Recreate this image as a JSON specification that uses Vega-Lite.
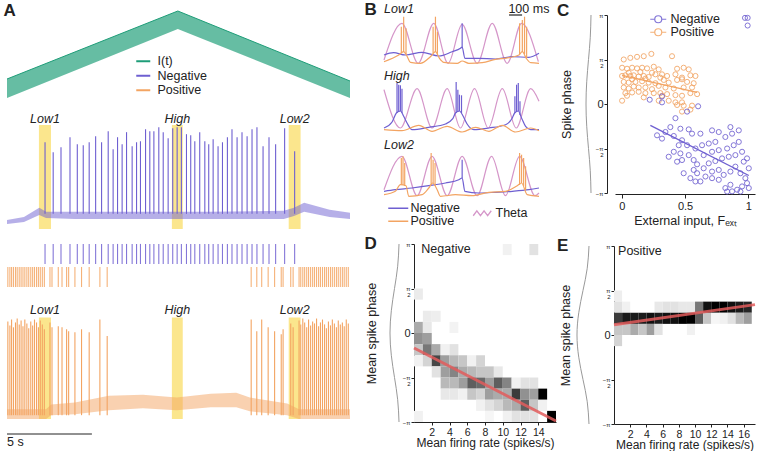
{
"$schema":"https://vega.github.io/schema/vega-lite/v6.json",
"padding":{"left":3,"top":0,"right":3,"bottom":0},
"config":{"font":"Liberation Sans","view":{"stroke":null},
 "axis":{"domainColor":"#222","tickColor":"#222","labelColor":"#222","titleColor":"#222","titleFontWeight":"normal","grid":false,"labelFont":"Liberation Sans","titleFont":"Liberation Sans"},
 "legend":{"labelFont":"Liberation Sans","labelColor":"#222"},
 "text":{"color":"#222","font":"Liberation Sans"}},
"datasets":{
 "drive":[{"t":0,"lo":3,"hi":22,"s":"I(t)"},{"t":10.06,"lo":72,"hi":90,"s":"I(t)"},{"t":20.2,"lo":3,"hi":20,"s":"I(t)"}],
 "negband":[{"t":0,"lo":-76,"hi":-72},{"t":1,"lo":-74,"hi":-69},{"t":1.9,"lo":-67,"hi":-60},{"t":2.3,"lo":-70,"hi":-64},{"t":4,"lo":-71,"hi":-64},{"t":8,"lo":-71,"hi":-64},{"t":12,"lo":-71,"hi":-64},{"t":16.3,"lo":-71,"hi":-63},{"t":16.9,"lo":-68,"hi":-60},{"t":17.5,"lo":-64,"hi":-55},{"t":19,"lo":-69,"hi":-62},{"t":20.2,"lo":-71,"hi":-65}],
 "negspk":[{"t":2.24,"peak":5},{"t":2.72,"peak":-5},{"t":3.18,"peak":0},{"t":3.71,"peak":10},{"t":4.14,"peak":3},{"t":4.49,"peak":2},{"t":4.84,"peak":5},{"t":5.22,"peak":11},{"t":5.57,"peak":5},{"t":5.96,"peak":16},{"t":6.25,"peak":-2},{"t":6.51,"peak":10},{"t":6.78,"peak":3},{"t":7.04,"peak":15},{"t":7.37,"peak":1},{"t":7.63,"peak":5},{"t":7.86,"peak":6},{"t":8.16,"peak":18},{"t":8.41,"peak":16},{"t":8.65,"peak":16},{"t":8.94,"peak":20},{"t":9.2,"peak":15},{"t":9.49,"peak":9},{"t":9.76,"peak":19},{"t":10.02,"peak":20},{"t":10.27,"peak":20},{"t":10.57,"peak":13},{"t":10.82,"peak":12},{"t":11.06,"peak":6},{"t":11.35,"peak":15},{"t":11.65,"peak":6},{"t":11.88,"peak":3},{"t":12.14,"peak":8},{"t":12.43,"peak":1},{"t":12.69,"peak":5},{"t":12.98,"peak":10},{"t":13.25,"peak":18},{"t":13.55,"peak":10},{"t":13.84,"peak":15},{"t":14.14,"peak":11},{"t":14.43,"peak":18},{"t":14.72,"peak":20},{"t":15.08,"peak":1},{"t":15.43,"peak":10},{"t":15.82,"peak":3},{"t":16.35,"peak":19},{"t":16.94,"peak":-4}],
 "posband":[{"t":0,"lo":-72,"hi":-62},{"t":2.3,"lo":-72,"hi":-62},{"t":2.6,"lo":-68,"hi":-57},{"t":4,"lo":-67,"hi":-55},{"t":6,"lo":-63,"hi":-48},{"t":8,"lo":-61,"hi":-47},{"t":10,"lo":-63,"hi":-50},{"t":12,"lo":-60,"hi":-46},{"t":13.5,"lo":-60,"hi":-45},{"t":14.3,"lo":-64,"hi":-50},{"t":16.5,"lo":-68,"hi":-56},{"t":17.2,"lo":-72,"hi":-62},{"t":20.2,"lo":-72,"hi":-62}],
 "posspk":[{"t":0.05,"peak":28},{"t":0.17,"peak":24},{"t":0.27,"peak":30},{"t":0.38,"peak":22},{"t":0.5,"peak":27},{"t":0.6,"peak":31},{"t":0.72,"peak":25},{"t":0.83,"peak":29},{"t":0.94,"peak":23},{"t":1.05,"peak":30},{"t":1.17,"peak":26},{"t":1.28,"peak":21},{"t":1.4,"peak":28},{"t":1.51,"peak":24},{"t":1.62,"peak":30},{"t":1.74,"peak":27},{"t":1.85,"peak":22},{"t":1.96,"peak":29},{"t":2.08,"peak":25},{"t":2.2,"peak":20},
  {"t":2.53,"peak":27},{"t":2.65,"peak":22},{"t":3.02,"peak":23},{"t":3.24,"peak":22},{"t":3.51,"peak":20},{"t":3.63,"peak":18},{"t":4.0,"peak":17},{"t":4.39,"peak":20},{"t":4.84,"peak":17},{"t":5.47,"peak":30},{"t":5.9,"peak":13},
  {"t":14.38,"peak":30},{"t":14.71,"peak":18},{"t":15.0,"peak":30},{"t":15.38,"peak":22},{"t":15.76,"peak":18},{"t":16.15,"peak":15},{"t":16.26,"peak":20},{"t":16.71,"peak":26},{"t":16.85,"peak":22},
  {"t":17.2,"peak":29},{"t":17.3,"peak":25},{"t":17.42,"peak":31},{"t":17.53,"peak":27},{"t":17.65,"peak":22},{"t":17.76,"peak":30},{"t":17.88,"peak":24},{"t":18.0,"peak":28},{"t":18.11,"peak":26},{"t":18.23,"peak":31},{"t":18.35,"peak":23},{"t":18.46,"peak":27},{"t":18.58,"peak":30},{"t":18.7,"peak":25},{"t":18.81,"peak":21},{"t":18.93,"peak":28},{"t":19.05,"peak":24},{"t":19.16,"peak":30},{"t":19.28,"peak":26},{"t":19.4,"peak":22},{"t":19.51,"peak":29},{"t":19.63,"peak":25},{"t":19.75,"peak":27},{"t":19.86,"peak":23},{"t":19.98,"peak":30},{"t":20.1,"peak":26}],
 "hl":[{"name":"Low1","t0":1.88,"t1":2.59,"tc":2.24},{"name":"High","t0":9.71,"t1":10.35,"tc":10.03},{"name":"Low2","t0":16.59,"t1":17.29,"tc":16.94}],
 "btheta":[
  {"row":"Low1","t":0,"v":5},{"row":"Low1","t":0.138,"v":41.7},{"row":"Low1","t":0.262,"v":1.7},{"row":"Low1","t":0.382,"v":41.7},{"row":"Low1","t":0.492,"v":1.7},{"row":"Low1","t":0.6,"v":40.7},{"row":"Low1","t":0.715,"v":1.7},{"row":"Low1","t":0.831,"v":41.7},{"row":"Low1","t":0.946,"v":1.7},{"row":"Low1","t":1.056,"v":41.7},{"row":"Low1","t":1.185,"v":3.3},
  {"row":"High","t":0,"v":43.3},{"row":"High","t":0.126,"v":5},{"row":"High","t":0.254,"v":44.3},{"row":"High","t":0.369,"v":5},{"row":"High","t":0.485,"v":44.3},{"row":"High","t":0.587,"v":5},{"row":"High","t":0.695,"v":44.3},{"row":"High","t":0.8,"v":5},{"row":"High","t":0.908,"v":44.3},{"row":"High","t":1.015,"v":5},{"row":"High","t":1.126,"v":44.3},{"row":"High","t":1.19,"v":31.7},
  {"row":"Low2","t":0,"v":8.3},{"row":"Low2","t":0.138,"v":41.7},{"row":"Low2","t":0.254,"v":2.3},{"row":"Low2","t":0.369,"v":41.7},{"row":"Low2","t":0.485,"v":2.3},{"row":"Low2","t":0.6,"v":41.7},{"row":"Low2","t":0.715,"v":2.3},{"row":"Low2","t":0.826,"v":41.7},{"row":"Low2","t":0.933,"v":2.3},{"row":"Low2","t":1.041,"v":41.7},{"row":"Low2","t":1.159,"v":2.3},{"row":"Low2","t":1.19,"v":5}],
 "bline":[
  {"row":"Low1","pop":"Negative","t":0,"v":10},{"row":"Low1","pop":"Negative","t":0.074,"v":12.3},{"row":"Low1","pop":"Negative","t":0.164,"v":10},{"row":"Low1","pop":"Negative","t":0.292,"v":12.7},{"row":"Low1","pop":"Negative","t":0.421,"v":9},{"row":"Low1","pop":"Negative","t":0.523,"v":13.3},{"row":"Low1","pop":"Negative","t":0.587,"v":16.7},{"row":"Low1","pop":"Negative","t":0.6,"v":18},{"row":"Low1","pop":"Negative","t":0.621,"v":6.7},{"row":"Low1","pop":"Negative","t":0.728,"v":6.7},{"row":"Low1","pop":"Negative","t":0.856,"v":6},{"row":"Low1","pop":"Negative","t":0.985,"v":8.3},{"row":"Low1","pop":"Negative","t":1.113,"v":7.7},{"row":"Low1","pop":"Negative","t":1.19,"v":11.7},
  {"row":"Low1","pop":"Positive","t":0,"v":3.3},{"row":"Low1","pop":"Positive","t":0.113,"v":10},{"row":"Low1","pop":"Positive","t":0.151,"v":13.3},{"row":"Low1","pop":"Positive","t":0.172,"v":10},{"row":"Low1","pop":"Positive","t":0.203,"v":2.7},{"row":"Low1","pop":"Positive","t":0.279,"v":1.7},{"row":"Low1","pop":"Positive","t":0.356,"v":8.3},{"row":"Low1","pop":"Positive","t":0.395,"v":13.3},{"row":"Low1","pop":"Positive","t":0.426,"v":6.7},{"row":"Low1","pop":"Positive","t":0.459,"v":2.7},{"row":"Low1","pop":"Positive","t":0.562,"v":1.7},{"row":"Low1","pop":"Positive","t":0.6,"v":4},{"row":"Low1","pop":"Positive","t":0.651,"v":1.7},{"row":"Low1","pop":"Positive","t":0.754,"v":2.3},{"row":"Low1","pop":"Positive","t":0.856,"v":5.7},{"row":"Low1","pop":"Positive","t":0.959,"v":7.3},{"row":"Low1","pop":"Positive","t":1.036,"v":10},{"row":"Low1","pop":"Positive","t":1.062,"v":13.3},{"row":"Low1","pop":"Positive","t":1.092,"v":6.7},{"row":"Low1","pop":"Positive","t":1.126,"v":2.3},{"row":"Low1","pop":"Positive","t":1.19,"v":1.7},
  {"row":"High","pop":"Negative","t":0,"v":5},{"row":"High","pop":"Negative","t":0.062,"v":11},{"row":"High","pop":"Negative","t":0.095,"v":20},{"row":"High","pop":"Negative","t":0.126,"v":22},{"row":"High","pop":"Negative","t":0.151,"v":16.7},{"row":"High","pop":"Negative","t":0.177,"v":10},{"row":"High","pop":"Negative","t":0.215,"v":3.3},{"row":"High","pop":"Negative","t":0.344,"v":5.7},{"row":"High","pop":"Negative","t":0.472,"v":9},{"row":"High","pop":"Negative","t":0.528,"v":14.3},{"row":"High","pop":"Negative","t":0.549,"v":20},{"row":"High","pop":"Negative","t":0.579,"v":22},{"row":"High","pop":"Negative","t":0.608,"v":16.7},{"row":"High","pop":"Negative","t":0.638,"v":9},{"row":"High","pop":"Negative","t":0.69,"v":3.3},{"row":"High","pop":"Negative","t":0.805,"v":5},{"row":"High","pop":"Negative","t":0.933,"v":8.3},{"row":"High","pop":"Negative","t":0.985,"v":15},{"row":"High","pop":"Negative","t":1.003,"v":20},{"row":"High","pop":"Negative","t":1.031,"v":22},{"row":"High","pop":"Negative","t":1.056,"v":15},{"row":"High","pop":"Negative","t":1.087,"v":6.7},{"row":"High","pop":"Negative","t":1.126,"v":3.3},{"row":"High","pop":"Negative","t":1.19,"v":3.3},
  {"row":"High","pop":"Positive","t":0,"v":3.3},{"row":"High","pop":"Positive","t":0.138,"v":2.3},{"row":"High","pop":"Positive","t":0.267,"v":7.7},{"row":"High","pop":"Positive","t":0.369,"v":1.7},{"row":"High","pop":"Positive","t":0.485,"v":6.7},{"row":"High","pop":"Positive","t":0.6,"v":1},{"row":"High","pop":"Positive","t":0.703,"v":5.7},{"row":"High","pop":"Positive","t":0.805,"v":1.7},{"row":"High","pop":"Positive","t":0.908,"v":7.7},{"row":"High","pop":"Positive","t":1.01,"v":1},{"row":"High","pop":"Positive","t":1.126,"v":5},{"row":"High","pop":"Positive","t":1.19,"v":2.3},
  {"row":"Low2","pop":"Negative","t":0,"v":6.7},{"row":"Low2","pop":"Negative","t":0.087,"v":8.3},{"row":"Low2","pop":"Negative","t":0.215,"v":10},{"row":"Low2","pop":"Negative","t":0.344,"v":12.3},{"row":"Low2","pop":"Negative","t":0.472,"v":15},{"row":"Low2","pop":"Negative","t":0.574,"v":18.3},{"row":"Low2","pop":"Negative","t":0.6,"v":20},{"row":"Low2","pop":"Negative","t":0.621,"v":6.7},{"row":"Low2","pop":"Negative","t":0.728,"v":5},{"row":"Low2","pop":"Negative","t":0.856,"v":5.7},{"row":"Low2","pop":"Negative","t":0.985,"v":6.7},{"row":"Low2","pop":"Negative","t":1.113,"v":8.3},{"row":"Low2","pop":"Negative","t":1.19,"v":10},
  {"row":"Low2","pop":"Positive","t":0,"v":3.3},{"row":"Low2","pop":"Positive","t":0.087,"v":6.7},{"row":"Low2","pop":"Positive","t":0.126,"v":13.3},{"row":"Low2","pop":"Positive","t":0.169,"v":12.3},{"row":"Low2","pop":"Positive","t":0.19,"v":1.7},{"row":"Low2","pop":"Positive","t":0.292,"v":3.3},{"row":"Low2","pop":"Positive","t":0.344,"v":10},{"row":"Low2","pop":"Positive","t":0.374,"v":15},{"row":"Low2","pop":"Positive","t":0.408,"v":8.3},{"row":"Low2","pop":"Positive","t":0.433,"v":1.7},{"row":"Low2","pop":"Positive","t":0.549,"v":3.3},{"row":"Low2","pop":"Positive","t":0.677,"v":2.3},{"row":"Low2","pop":"Positive","t":0.805,"v":5.7},{"row":"Low2","pop":"Positive","t":0.933,"v":6.7},{"row":"Low2","pop":"Positive","t":1.023,"v":12.3},{"row":"Low2","pop":"Positive","t":1.056,"v":15},{"row":"Low2","pop":"Positive","t":1.1,"v":3.3},{"row":"Low2","pop":"Positive","t":1.19,"v":1.7}],
 "bspk":[
  {"row":"Low1","pop":"Negative","t":0.6,"b":17,"p":41.7},
  {"row":"Low1","pop":"Positive","t":0.133,"b":12,"p":38.3},{"row":"Low1","pop":"Positive","t":0.151,"b":13,"p":48.3},{"row":"Low1","pop":"Positive","t":0.169,"b":11,"p":36.7},{"row":"Low1","pop":"Positive","t":0.377,"b":12,"p":38.3},{"row":"Low1","pop":"Positive","t":0.395,"b":13,"p":48.3},{"row":"Low1","pop":"Positive","t":0.41,"b":10,"p":33.3},{"row":"Low1","pop":"Positive","t":1.041,"b":11,"p":41.7},{"row":"Low1","pop":"Positive","t":1.062,"b":13,"p":45},{"row":"Low1","pop":"Positive","t":1.079,"b":11,"p":48.3},{"row":"Low1","pop":"Positive","t":1.095,"b":7,"p":38.3},
  {"row":"High","pop":"Negative","t":0.1,"b":20,"p":50},{"row":"High","pop":"Negative","t":0.113,"b":21,"p":48.3},{"row":"High","pop":"Negative","t":0.126,"b":22,"p":47.7},{"row":"High","pop":"Negative","t":0.138,"b":20,"p":44.3},{"row":"High","pop":"Negative","t":0.554,"b":20,"p":51},{"row":"High","pop":"Negative","t":0.567,"b":21,"p":43.3},{"row":"High","pop":"Negative","t":0.579,"b":22,"p":38.3},{"row":"High","pop":"Negative","t":0.595,"b":20,"p":37.7},{"row":"High","pop":"Negative","t":1.005,"b":20,"p":36.7},{"row":"High","pop":"Negative","t":1.018,"b":21,"p":48.3},{"row":"High","pop":"Negative","t":1.031,"b":22,"p":50},{"row":"High","pop":"Negative","t":1.044,"b":18,"p":31.7},
  {"row":"Low2","pop":"Negative","t":0.6,"b":20,"p":38.3},
  {"row":"Low2","pop":"Positive","t":0.133,"b":13,"p":40},{"row":"Low2","pop":"Positive","t":0.146,"b":13,"p":41.7},{"row":"Low2","pop":"Positive","t":0.159,"b":12,"p":35},{"row":"Low2","pop":"Positive","t":0.362,"b":13,"p":45},{"row":"Low2","pop":"Positive","t":0.377,"b":15,"p":38.3},{"row":"Low2","pop":"Positive","t":0.392,"b":12,"p":35},{"row":"Low2","pop":"Positive","t":1.041,"b":13,"p":45},{"row":"Low2","pop":"Positive","t":1.056,"b":15,"p":43.3},{"row":"Low2","pop":"Positive","t":1.072,"b":12,"p":40},{"row":"Low2","pop":"Positive","t":1.087,"b":8,"p":31.7}],
 "wave":[{"ph":-3.1416,"w":1},{"ph":-2.3562,"w":0.707},{"ph":-1.5708,"w":0},{"ph":-0.7854,"w":-0.707},{"ph":0,"w":-1},{"ph":0.7854,"w":-0.707},{"ph":1.5708,"w":0},{"ph":2.3562,"w":0.707},{"ph":3.1416,"w":1}],
 "cpts":[
  {"pop":"Positive","F":0.016,"ph":1.571},{"pop":"Positive","F":0.068,"ph":1.629},{"pop":"Positive","F":0.121,"ph":1.664},{"pop":"Positive","F":0.174,"ph":1.687},{"pop":"Positive","F":0.234,"ph":1.769},{"pop":"Positive","F":0.397,"ph":1.687},
  {"pop":"Positive","F":0.003,"ph":1.28},{"pop":"Positive","F":0.042,"ph":1.245},{"pop":"Positive","F":0.082,"ph":1.28},{"pop":"Positive","F":0.121,"ph":1.257},{"pop":"Positive","F":0.161,"ph":1.28},{"pop":"Positive","F":0.2,"ph":1.257},{"pop":"Positive","F":0.253,"ph":1.315},{"pop":"Positive","F":0.292,"ph":1.222},{"pop":"Positive","F":0.437,"ph":1.245},{"pop":"Positive","F":0.489,"ph":1.28},{"pop":"Positive","F":0.529,"ph":1.222},
  {"pop":"Positive","F":0.055,"ph":1.105},{"pop":"Positive","F":0.147,"ph":1.129},{"pop":"Positive","F":0.239,"ph":1.105},
  {"pop":"Positive","F":0.003,"ph":0.989},{"pop":"Positive","F":0.029,"ph":1.012},{"pop":"Positive","F":0.068,"ph":0.989},{"pop":"Positive","F":0.095,"ph":1.012},{"pop":"Positive","F":0.134,"ph":0.966},{"pop":"Positive","F":0.174,"ph":0.989},{"pop":"Positive","F":0.213,"ph":0.954},{"pop":"Positive","F":0.266,"ph":1.047},{"pop":"Positive","F":0.318,"ph":1.047},{"pop":"Positive","F":0.358,"ph":0.989},{"pop":"Positive","F":0.424,"ph":1.047},{"pop":"Positive","F":0.476,"ph":0.931},{"pop":"Positive","F":0.542,"ph":1.012},{"pop":"Positive","F":0.582,"ph":0.989},
  {"pop":"Positive","F":0.305,"ph":0.931},{"pop":"Positive","F":0.082,"ph":0.873},{"pop":"Positive","F":0.187,"ph":0.896},
  {"pop":"Positive","F":0.016,"ph":0.78},{"pop":"Positive","F":0.055,"ph":0.756},{"pop":"Positive","F":0.108,"ph":0.78},{"pop":"Positive","F":0.161,"ph":0.803},{"pop":"Positive","F":0.213,"ph":0.756},{"pop":"Positive","F":0.266,"ph":0.733},{"pop":"Positive","F":0.332,"ph":0.849},{"pop":"Positive","F":0.371,"ph":0.756},{"pop":"Positive","F":0.437,"ph":0.849},{"pop":"Positive","F":0.476,"ph":0.873},{"pop":"Positive","F":0.516,"ph":0.78},{"pop":"Positive","F":0.568,"ph":0.733},
  {"pop":"Positive","F":0.016,"ph":0.582},{"pop":"Positive","F":0.055,"ph":0.547},{"pop":"Positive","F":0.095,"ph":0.617},{"pop":"Positive","F":0.134,"ph":0.582},{"pop":"Positive","F":0.187,"ph":0.582},{"pop":"Positive","F":0.239,"ph":0.524},{"pop":"Positive","F":0.292,"ph":0.64},{"pop":"Positive","F":0.345,"ph":0.582},{"pop":"Positive","F":0.411,"ph":0.547},{"pop":"Positive","F":0.489,"ph":0.582},{"pop":"Positive","F":0.555,"ph":0.582},
  {"pop":"Positive","F":0.029,"ph":0.384},{"pop":"Positive","F":0.082,"ph":0.407},{"pop":"Positive","F":0.134,"ph":0.431},{"pop":"Positive","F":0.187,"ph":0.384},{"pop":"Positive","F":0.253,"ph":0.384},{"pop":"Positive","F":0.305,"ph":0.384},{"pop":"Positive","F":0.358,"ph":0.349},{"pop":"Positive","F":0.424,"ph":0.314},{"pop":"Positive","F":0.476,"ph":0.291},{"pop":"Positive","F":0.542,"ph":0.384},{"pop":"Positive","F":0.595,"ph":0.349},
  {"pop":"Positive","F":0.042,"ph":0.291},{"pop":"Positive","F":0.174,"ph":0.233},{"pop":"Positive","F":0.318,"ph":0.291},
  {"pop":"Positive","F":0.003,"ph":0.116},{"pop":"Positive","F":0.292,"ph":0.116},{"pop":"Positive","F":0.371,"ph":0.116},{"pop":"Positive","F":0.424,"ph":0.058},{"pop":"Positive","F":0.476,"ph":0.058},{"pop":"Positive","F":0.437,"ph":-0.035},{"pop":"Positive","F":0.489,"ph":-0.058},{"pop":"Positive","F":0.555,"ph":-0.058},{"pop":"Positive","F":0.476,"ph":-0.268},{"pop":"Positive","F":0.542,"ph":-0.198},
  {"pop":"Negative","F":0.973,"ph":3.04},{"pop":"Negative","F":0.994,"ph":3.04},{"pop":"Negative","F":0.994,"ph":2.77},
  {"pop":"Negative","F":0.318,"ph":0.268},{"pop":"Negative","F":0.318,"ph":0.058},{"pop":"Negative","F":0.221,"ph":0.151},{"pop":"Negative","F":0.603,"ph":-0.081},{"pop":"Negative","F":0.516,"ph":-0.268},
  {"pop":"Negative","F":0.424,"ph":-0.5},{"pop":"Negative","F":0.384,"ph":-0.815},{"pop":"Negative","F":0.345,"ph":-0.989},{"pop":"Negative","F":0.463,"ph":-0.873},{"pop":"Negative","F":0.529,"ph":-0.896},{"pop":"Negative","F":0.318,"ph":-1.222},{"pop":"Negative","F":0.279,"ph":-1.105},{"pop":"Negative","F":0.411,"ph":-1.129},{"pop":"Negative","F":0.476,"ph":-1.28},{"pop":"Negative","F":0.555,"ph":-1.047},{"pop":"Negative","F":0.621,"ph":-1.047},
  {"pop":"Negative","F":0.45,"ph":-1.455},{"pop":"Negative","F":0.516,"ph":-1.455},{"pop":"Negative","F":0.582,"ph":-1.571},{"pop":"Negative","F":0.634,"ph":-1.455},{"pop":"Negative","F":0.687,"ph":-1.396},{"pop":"Negative","F":0.739,"ph":-1.338},{"pop":"Negative","F":0.713,"ph":-0.931},{"pop":"Negative","F":0.766,"ph":-0.989},{"pop":"Negative","F":0.858,"ph":-0.815},{"pop":"Negative","F":0.871,"ph":-1.047},{"pop":"Negative","F":0.818,"ph":-1.164},{"pop":"Negative","F":0.924,"ph":-0.931},
  {"pop":"Negative","F":0.411,"ph":-1.687},{"pop":"Negative","F":0.371,"ph":-1.862},{"pop":"Negative","F":0.463,"ph":-1.745},{"pop":"Negative","F":0.529,"ph":-1.804},{"pop":"Negative","F":0.476,"ph":-1.978},{"pop":"Negative","F":0.568,"ph":-1.978},{"pop":"Negative","F":0.437,"ph":-2.036},{"pop":"Negative","F":0.595,"ph":-2.129},{"pop":"Negative","F":0.647,"ph":-1.804},{"pop":"Negative","F":0.713,"ph":-1.687},{"pop":"Negative","F":0.766,"ph":-1.629},{"pop":"Negative","F":0.832,"ph":-1.571},{"pop":"Negative","F":0.884,"ph":-1.455},{"pop":"Negative","F":0.924,"ph":-1.338},{"pop":"Negative","F":0.95,"ph":-1.687},{"pop":"Negative","F":0.989,"ph":-1.92},{"pop":"Negative","F":1.003,"ph":-2.269},{"pop":"Negative","F":0.963,"ph":-2.036},{"pop":"Negative","F":0.897,"ph":-1.804},{"pop":"Negative","F":0.845,"ph":-1.862},{"pop":"Negative","F":0.792,"ph":-1.92},{"pop":"Negative","F":0.739,"ph":-2.013},{"pop":"Negative","F":0.687,"ph":-2.094},
  {"pop":"Negative","F":0.647,"ph":-2.269},{"pop":"Negative","F":0.595,"ph":-2.444},{"pop":"Negative","F":0.542,"ph":-2.618},{"pop":"Negative","F":0.489,"ph":-2.444},{"pop":"Negative","F":0.568,"ph":-2.327},{"pop":"Negative","F":0.713,"ph":-2.385},{"pop":"Negative","F":0.766,"ph":-2.327},{"pop":"Negative","F":0.805,"ph":-2.502},{"pop":"Negative","F":0.858,"ph":-2.385},{"pop":"Negative","F":0.897,"ph":-2.211},{"pop":"Negative","F":0.937,"ph":-2.444},{"pop":"Negative","F":0.976,"ph":-2.618},{"pop":"Negative","F":0.989,"ph":-2.793},{"pop":"Negative","F":0.95,"ph":-2.909},{"pop":"Negative","F":0.911,"ph":-3.025},{"pop":"Negative","F":0.858,"ph":-2.851},{"pop":"Negative","F":0.818,"ph":-2.967},{"pop":"Negative","F":0.766,"ph":-2.676},{"pop":"Negative","F":0.713,"ph":-2.618},{"pop":"Negative","F":0.661,"ph":-2.56},{"pop":"Negative","F":0.621,"ph":-2.734},{"pop":"Negative","F":0.582,"ph":-2.734},{"pop":"Negative","F":0.832,"ph":-3.09},{"pop":"Negative","F":0.871,"ph":-3.084},{"pop":"Negative","F":0.937,"ph":-3.09},{"pop":"Negative","F":1.003,"ph":-2.967}],
 "cfit":[{"pop":"Positive","F":0.003,"ph":1.012},{"pop":"Positive","F":0.595,"ph":0.407},{"pop":"Negative","F":0.226,"ph":-0.756},{"pop":"Negative","F":1.003,"ph":-2.525}],
 "dheat":[
  {"r0":10,"r1":11,"p0":2.7489,"p1":3.1416,"d":0.05},{"r0":13,"r1":14,"p0":2.7489,"p1":3.1416,"d":0.1},
  {"r0":0,"r1":1,"p0":1.1781,"p1":1.5708,"d":0.07},
  {"r0":1,"r1":2,"p0":0.3927,"p1":0.7854,"d":0.07},{"r0":2,"r1":3,"p0":0.3927,"p1":0.7854,"d":0.06},
  {"r0":0,"r1":1,"p0":0,"p1":0.3927,"d":0.3},{"r0":1,"r1":2,"p0":0,"p1":0.3927,"d":0.08},{"r0":4,"r1":5,"p0":0,"p1":0.3927,"d":0.04},
  {"r0":0,"r1":1,"p0":-0.3927,"p1":0,"d":0.4},{"r0":1,"r1":2,"p0":-0.3927,"p1":0,"d":0.35},
  {"r0":0,"r1":1,"p0":-0.7854,"p1":-0.3927,"d":0.2},{"r0":1,"r1":2,"p0":-0.7854,"p1":-0.3927,"d":0.5},{"r0":2,"r1":3,"p0":-0.7854,"p1":-0.3927,"d":0.3},{"r0":3,"r1":4,"p0":-0.7854,"p1":-0.3927,"d":0.05},{"r0":4,"r1":5,"p0":-0.7854,"p1":-0.3927,"d":0.1},
  {"r0":0,"r1":1,"p0":-1.1781,"p1":-0.7854,"d":0.05},{"r0":1,"r1":2,"p0":-1.1781,"p1":-0.7854,"d":0.15},{"r0":2,"r1":3,"p0":-1.1781,"p1":-0.7854,"d":0.7},{"r0":3,"r1":4,"p0":-1.1781,"p1":-0.7854,"d":0.35},{"r0":4,"r1":5,"p0":-1.1781,"p1":-0.7854,"d":0.25},{"r0":5,"r1":6,"p0":-1.1781,"p1":-0.7854,"d":0.2},{"r0":6,"r1":7,"p0":-1.1781,"p1":-0.7854,"d":0.05},{"r0":7,"r1":8,"p0":-1.1781,"p1":-0.7854,"d":0.15},
  {"r0":2,"r1":3,"p0":-1.5708,"p1":-1.1781,"d":0.1},{"r0":3,"r1":4,"p0":-1.5708,"p1":-1.1781,"d":0.35},{"r0":4,"r1":5,"p0":-1.5708,"p1":-1.1781,"d":0.45},{"r0":5,"r1":6,"p0":-1.5708,"p1":-1.1781,"d":0.3},{"r0":6,"r1":7,"p0":-1.5708,"p1":-1.1781,"d":0.25},{"r0":7,"r1":8,"p0":-1.5708,"p1":-1.1781,"d":0.2},{"r0":8,"r1":9,"p0":-1.5708,"p1":-1.1781,"d":0.2},{"r0":9,"r1":10,"p0":-1.5708,"p1":-1.1781,"d":0.08},
  {"r0":3,"r1":4,"p0":-1.9635,"p1":-1.5708,"d":0.25},{"r0":4,"r1":5,"p0":-1.9635,"p1":-1.5708,"d":0.25},{"r0":5,"r1":6,"p0":-1.9635,"p1":-1.5708,"d":0.35},{"r0":6,"r1":7,"p0":-1.9635,"p1":-1.5708,"d":0.6},{"r0":7,"r1":8,"p0":-1.9635,"p1":-1.5708,"d":0.55},{"r0":8,"r1":9,"p0":-1.9635,"p1":-1.5708,"d":0.35},{"r0":9,"r1":10,"p0":-1.9635,"p1":-1.5708,"d":0.6},{"r0":10,"r1":11,"p0":-1.9635,"p1":-1.5708,"d":0.45},{"r0":11,"r1":12,"p0":-1.9635,"p1":-1.5708,"d":0.05},{"r0":12,"r1":13,"p0":-1.9635,"p1":-1.5708,"d":0.1},{"r0":13,"r1":14,"p0":-1.9635,"p1":-1.5708,"d":0.1},
  {"r0":3,"r1":4,"p0":-2.3562,"p1":-1.9635,"d":0.08},{"r0":4,"r1":5,"p0":-2.3562,"p1":-1.9635,"d":0.08},{"r0":5,"r1":6,"p0":-2.3562,"p1":-1.9635,"d":0.05},{"r0":6,"r1":7,"p0":-2.3562,"p1":-1.9635,"d":0.2},{"r0":7,"r1":8,"p0":-2.3562,"p1":-1.9635,"d":0.15},{"r0":8,"r1":9,"p0":-2.3562,"p1":-1.9635,"d":0.35},{"r0":9,"r1":10,"p0":-2.3562,"p1":-1.9635,"d":0.3},{"r0":10,"r1":11,"p0":-2.3562,"p1":-1.9635,"d":0.3},{"r0":11,"r1":12,"p0":-2.3562,"p1":-1.9635,"d":0.75},{"r0":12,"r1":13,"p0":-2.3562,"p1":-1.9635,"d":0.4},{"r0":13,"r1":14,"p0":-2.3562,"p1":-1.9635,"d":0.35},{"r0":14,"r1":15,"p0":-2.3562,"p1":-1.9635,"d":1},
  {"r0":7,"r1":8,"p0":-2.7489,"p1":-2.3562,"d":0.05},{"r0":8,"r1":9,"p0":-2.7489,"p1":-2.3562,"d":0.1},{"r0":9,"r1":10,"p0":-2.7489,"p1":-2.3562,"d":0.15},{"r0":10,"r1":11,"p0":-2.7489,"p1":-2.3562,"d":0.25},{"r0":11,"r1":12,"p0":-2.7489,"p1":-2.3562,"d":0.3},{"r0":12,"r1":13,"p0":-2.7489,"p1":-2.3562,"d":0.6},{"r0":13,"r1":14,"p0":-2.7489,"p1":-2.3562,"d":0.2},{"r0":14,"r1":15,"p0":-2.7489,"p1":-2.3562,"d":0.05},
  {"r0":0,"r1":1,"p0":-3.1416,"p1":-2.7489,"d":0.05},{"r0":8,"r1":9,"p0":-3.1416,"p1":-2.7489,"d":0.03},{"r0":10,"r1":11,"p0":-3.1416,"p1":-2.7489,"d":0.05},{"r0":11,"r1":12,"p0":-3.1416,"p1":-2.7489,"d":0.1},{"r0":12,"r1":13,"p0":-3.1416,"p1":-2.7489,"d":0.1},{"r0":13,"r1":14,"p0":-3.1416,"p1":-2.7489,"d":0.1},{"r0":15,"r1":16,"p0":-3.1416,"p1":-2.7489,"d":1}],
 "dfit":[{"r":0,"ph":-0.53},{"r":16,"ph":-3.106}],
 "eheat":[
  {"r0":0,"r1":1,"p0":1.1781,"p1":1.5708,"d":0.06},
  {"r0":0,"r1":1,"p0":0.7854,"p1":1.1781,"d":0.1},{"r0":1,"r1":2,"p0":0.7854,"p1":1.1781,"d":0.05},{"r0":5,"r1":6,"p0":0.7854,"p1":1.1781,"d":0.08},{"r0":6,"r1":7,"p0":0.7854,"p1":1.1781,"d":0.1},{"r0":7,"r1":8,"p0":0.7854,"p1":1.1781,"d":0.1},{"r0":8,"r1":9,"p0":0.7854,"p1":1.1781,"d":0.08},{"r0":9,"r1":10,"p0":0.7854,"p1":1.1781,"d":0.08},{"r0":10,"r1":11,"p0":0.7854,"p1":1.1781,"d":0.5},{"r0":11,"r1":12,"p0":0.7854,"p1":1.1781,"d":0.95},{"r0":12,"r1":13,"p0":0.7854,"p1":1.1781,"d":1},{"r0":13,"r1":14,"p0":0.7854,"p1":1.1781,"d":1},{"r0":14,"r1":15,"p0":0.7854,"p1":1.1781,"d":0.95},{"r0":15,"r1":16,"p0":0.7854,"p1":1.1781,"d":0.9},{"r0":16,"r1":17,"p0":0.7854,"p1":1.1781,"d":0.85},
  {"r0":0,"r1":1,"p0":0.3927,"p1":0.7854,"d":0.75},{"r0":1,"r1":2,"p0":0.3927,"p1":0.7854,"d":0.9},{"r0":2,"r1":3,"p0":0.3927,"p1":0.7854,"d":0.9},{"r0":3,"r1":4,"p0":0.3927,"p1":0.7854,"d":0.9},{"r0":4,"r1":5,"p0":0.3927,"p1":0.7854,"d":0.95},{"r0":5,"r1":6,"p0":0.3927,"p1":0.7854,"d":0.9},{"r0":6,"r1":7,"p0":0.3927,"p1":0.7854,"d":0.95},{"r0":7,"r1":8,"p0":0.3927,"p1":0.7854,"d":0.95},{"r0":8,"r1":9,"p0":0.3927,"p1":0.7854,"d":1},{"r0":9,"r1":10,"p0":0.3927,"p1":0.7854,"d":1},{"r0":10,"r1":11,"p0":0.3927,"p1":0.7854,"d":0.6},{"r0":11,"r1":12,"p0":0.3927,"p1":0.7854,"d":0.2},{"r0":12,"r1":13,"p0":0.3927,"p1":0.7854,"d":0.03},{"r0":13,"r1":14,"p0":0.3927,"p1":0.7854,"d":0.05},{"r0":14,"r1":15,"p0":0.3927,"p1":0.7854,"d":0.1},{"r0":15,"r1":16,"p0":0.3927,"p1":0.7854,"d":0.25},{"r0":16,"r1":17,"p0":0.3927,"p1":0.7854,"d":0.35},
  {"r0":0,"r1":1,"p0":0,"p1":0.3927,"d":0.2},{"r0":1,"r1":2,"p0":0,"p1":0.3927,"d":0.2},{"r0":2,"r1":3,"p0":0,"p1":0.3927,"d":0.3},{"r0":3,"r1":4,"p0":0,"p1":0.3927,"d":0.2},{"r0":4,"r1":5,"p0":0,"p1":0.3927,"d":0.35},{"r0":5,"r1":6,"p0":0,"p1":0.3927,"d":0.1},{"r0":9,"r1":10,"p0":0,"p1":0.3927,"d":0.05},
  {"r0":0,"r1":1,"p0":-0.3927,"p1":0,"d":0.15}],
 "efit":[{"r":0,"ph":0.365},{"r":17.4,"ph":1.072}]
},
"hconcat":[
 {"hconcat":[
  {"vconcat":[
   {"width":343,"height":86,"layer":[
    {"data":{"name":"drive"},"mark":{"type":"area","color":"#1e9d78","opacity":0.68},
     "encoding":{"x":{"field":"t","type":"quantitative","scale":{"domain":[0,20.2],"nice":false,"zero":false},"axis":null},
      "y":{"field":"lo","type":"quantitative","scale":{"domain":[0,86],"nice":false,"zero":false},"axis":null},"y2":{"field":"hi"}}},
    {"data":{"name":"drive"},"mark":{"type":"line","strokeWidth":1},
     "encoding":{"x":{"field":"t","type":"quantitative","scale":{"domain":[0,20.2],"nice":false,"zero":false},"axis":null},
      "y":{"field":"hi","type":"quantitative","scale":{"domain":[0,86],"nice":false,"zero":false},"axis":null},
      "color":{"field":"s","type":"nominal","scale":{"domain":["I(t)","Negative","Positive"],"range":["#1e9d78","#6e5fd1","#f3a462"]},
       "legend":{"orient":"none","legendX":130,"legendY":40,"title":null,"symbolType":"M-1.4,0L1.4,0","symbolSize":100,"symbolStrokeWidth":2,"labelFontSize":12.5,"rowPadding":1.5,"labelOffset":8}}}},
    {"data":{"values":[{}]},"mark":{"type":"text","text":"A","fontSize":17,"fontWeight":"bold","align":"left","baseline":"middle"},
     "encoding":{"x":{"datum":-0.2,"type":"quantitative","scale":{"domain":[0,20.2],"nice":false,"zero":false},"axis":null},
      "y":{"datum":90,"type":"quantitative","scale":{"domain":[0,86],"nice":false,"zero":false},"axis":null}}}
   ]},
   {"width":343,"height":117,"layer":[
    {"data":{"name":"hl"},"mark":{"type":"rect","color":"#fbe68d"},
     "encoding":{"x":{"field":"t0","type":"quantitative","scale":{"domain":[0,20.2],"nice":false,"zero":false},"axis":null},"x2":{"field":"t1"},
      "y":{"datum":22,"type":"quantitative","scale":{"domain":[-81,35],"nice":false,"zero":false},"axis":null},"y2":{"datum":-81}}},
    {"data":{"name":"negband"},"mark":{"type":"area","color":"#6e5fd1","opacity":0.5},
     "encoding":{"x":{"field":"t","type":"quantitative","scale":{"domain":[0,20.2],"nice":false,"zero":false},"axis":null},
      "y":{"field":"lo","type":"quantitative","scale":{"domain":[-81,35],"nice":false,"zero":false},"axis":null},"y2":{"field":"hi"}}},
    {"data":{"name":"negspk"},"mark":{"type":"rule","color":"#6e5fd1","strokeWidth":1.1},
     "encoding":{"x":{"field":"t","type":"quantitative","scale":{"domain":[0,20.2],"nice":false,"zero":false},"axis":null},
      "y":{"field":"peak","type":"quantitative","scale":{"domain":[-81,35],"nice":false,"zero":false},"axis":null},"y2":{"datum":-66}}},
    {"data":{"name":"hl"},"mark":{"type":"text","fontSize":12.5,"fontStyle":"italic","baseline":"middle"},
     "encoding":{"x":{"field":"tc","type":"quantitative","scale":{"domain":[0,20.2],"nice":false,"zero":false},"axis":null},
      "y":{"datum":28,"type":"quantitative","scale":{"domain":[-81,35],"nice":false,"zero":false},"axis":null},"text":{"field":"name"}}}
   ]},
   {"width":343,"height":49,"layer":[
    {"data":{"name":"negspk"},"mark":{"type":"rule","color":"#6e5fd1","strokeWidth":1.1,"opacity":0.85},
     "encoding":{"x":{"field":"t","type":"quantitative","scale":{"domain":[0,20.2],"nice":false,"zero":false},"axis":null},
      "y":{"datum":1.84,"type":"quantitative","scale":{"domain":[0,2],"nice":false,"zero":false},"axis":null},"y2":{"datum":1.02}}},
    {"data":{"name":"posspk"},"mark":{"type":"rule","color":"#f3a462","strokeWidth":1.1,"opacity":0.85},
     "encoding":{"x":{"field":"t","type":"quantitative","scale":{"domain":[0,20.2],"nice":false,"zero":false},"axis":null},
      "y":{"datum":0.9,"type":"quantitative","scale":{"domain":[0,2],"nice":false,"zero":false},"axis":null},"y2":{"datum":0.08}}}
   ]},
   {"width":343,"height":122,"layer":[
    {"data":{"name":"hl"},"mark":{"type":"rect","color":"#fbe68d"},
     "encoding":{"x":{"field":"t0","type":"quantitative","scale":{"domain":[0,20.2],"nice":false,"zero":false},"axis":null},"x2":{"field":"t1"},
      "y":{"datum":32,"type":"quantitative","scale":{"domain":[-75,50],"nice":false,"zero":false},"axis":null},"y2":{"datum":-72}}},
    {"data":{"name":"posband"},"mark":{"type":"area","color":"#f3a462","opacity":0.5},
     "encoding":{"x":{"field":"t","type":"quantitative","scale":{"domain":[0,20.2],"nice":false,"zero":false},"axis":null},
      "y":{"field":"lo","type":"quantitative","scale":{"domain":[-75,50],"nice":false,"zero":false},"axis":null},"y2":{"field":"hi"}}},
    {"data":{"name":"posspk"},"mark":{"type":"rule","color":"#f3a462","strokeWidth":1.1},
     "encoding":{"x":{"field":"t","type":"quantitative","scale":{"domain":[0,20.2],"nice":false,"zero":false},"axis":null},
      "y":{"field":"peak","type":"quantitative","scale":{"domain":[-75,50],"nice":false,"zero":false},"axis":null},"y2":{"datum":-68}}},
    {"data":{"name":"hl"},"mark":{"type":"text","fontSize":12.5,"fontStyle":"italic","baseline":"middle"},
     "encoding":{"x":{"field":"tc","type":"quantitative","scale":{"domain":[0,20.2],"nice":false,"zero":false},"axis":null},
      "y":{"datum":40,"type":"quantitative","scale":{"domain":[-75,50],"nice":false,"zero":false},"axis":null},"text":{"field":"name"}}}
   ]},
   {"width":343,"height":12,"data":{"values":[{"t0":0,"t1":5,"label":"5 s"}]},"layer":[
    {"mark":{"type":"rule","color":"#222","strokeWidth":1},
     "encoding":{"x":{"field":"t0","type":"quantitative","scale":{"domain":[0,20.2],"nice":false,"zero":false},"axis":null},"x2":{"field":"t1"},
      "y":{"datum":1,"type":"quantitative","scale":{"domain":[0,1],"nice":false,"zero":false},"axis":null}}},
    {"mark":{"type":"text","fontSize":12.5,"align":"left","baseline":"middle"},
     "encoding":{"x":{"field":"t0","type":"quantitative","scale":{"domain":[0,20.2],"nice":false,"zero":false},"axis":null},
      "y":{"datum":0.3,"type":"quantitative","scale":{"domain":[0,1],"nice":false,"zero":false},"axis":null},"text":{"field":"label"}}}
   ]}
  ],"spacing":11,"resolve":{"scale":{"color":"independent","stroke":"independent"}}},
  {"vconcat":[
   {"vconcat":[
    {"width":155,"height":50,"layer":[
     {"data":{"name":"btheta"},"transform":[{"filter":"datum.row == 'Low1'"}],"mark":{"type":"line","color":"#d596c9","strokeWidth":1.2,"interpolate":"monotone"},
      "encoding":{"x":{"field":"t","type":"quantitative","scale":{"domain":[0,1.19],"nice":false,"zero":false},"axis":null},
       "y":{"field":"v","type":"quantitative","scale":{"domain":[0,50],"nice":false,"zero":false},"axis":null}}},
     {"data":{"name":"bline"},"transform":[{"filter":"datum.row == 'Low1'"}],"mark":{"type":"line","strokeWidth":1.2,"interpolate":"monotone"},
      "encoding":{"x":{"field":"t","type":"quantitative","scale":{"domain":[0,1.19],"nice":false,"zero":false},"axis":null},
       "y":{"field":"v","type":"quantitative","scale":{"domain":[0,50],"nice":false,"zero":false},"axis":null},
       "color":{"field":"pop","type":"nominal","scale":{"domain":["Negative","Positive"],"range":["#6e5fd1","#f3a462"]},"legend":null}}},
     {"data":{"name":"bspk"},"transform":[{"filter":"datum.row == 'Low1'"}],"mark":{"type":"rule","strokeWidth":1.2},
      "encoding":{"x":{"field":"t","type":"quantitative","scale":{"domain":[0,1.19],"nice":false,"zero":false},"axis":null},
       "y":{"field":"p","type":"quantitative","scale":{"domain":[0,50],"nice":false,"zero":false},"axis":null},"y2":{"field":"b"},
       "color":{"field":"pop","type":"nominal","scale":{"domain":["Negative","Positive"],"range":["#6e5fd1","#f3a462"]},"legend":null}}},
     {"data":{"values":[{}]},"mark":{"type":"text","text":"Low1","fontSize":12.5,"fontStyle":"italic","align":"left","baseline":"middle"},
      "encoding":{"x":{"datum":0,"type":"quantitative","scale":{"domain":[0,1.19],"nice":false,"zero":false},"axis":null},
       "y":{"datum":56,"type":"quantitative","scale":{"domain":[0,50],"nice":false,"zero":false},"axis":null}}},
     {"data":{"values":[{}]},"mark":{"type":"text","text":"B","fontSize":17,"fontWeight":"bold","align":"left","baseline":"middle"},
      "encoding":{"x":{"datum":-0.15,"type":"quantitative","scale":{"domain":[0,1.19],"nice":false,"zero":false},"axis":null},
       "y":{"datum":55,"type":"quantitative","scale":{"domain":[0,50],"nice":false,"zero":false},"axis":null}}},
     {"data":{"values":[{"t0":0.96,"t1":1.06,"label":"100 ms"}]},"mark":{"type":"rule","color":"#222","strokeWidth":1.2},
      "encoding":{"x":{"field":"t0","type":"quantitative","scale":{"domain":[0,1.19],"nice":false,"zero":false},"axis":null},"x2":{"field":"t1"},
       "y":{"datum":50,"type":"quantitative","scale":{"domain":[0,50],"nice":false,"zero":false},"axis":null}}},
     {"data":{"values":[{"t0":0.955,"label":"100 ms"}]},"mark":{"type":"text","fontSize":12.5,"align":"left","baseline":"middle"},
      "encoding":{"x":{"field":"t0","type":"quantitative","scale":{"domain":[0,1.19],"nice":false,"zero":false},"axis":null},
       "y":{"datum":56,"type":"quantitative","scale":{"domain":[0,50],"nice":false,"zero":false},"axis":null},"text":{"field":"label"}}}
    ]},
    {"width":155,"height":52,"layer":[
     {"data":{"name":"btheta"},"transform":[{"filter":"datum.row == 'High'"}],"mark":{"type":"line","color":"#d596c9","strokeWidth":1.2,"interpolate":"monotone"},
      "encoding":{"x":{"field":"t","type":"quantitative","scale":{"domain":[0,1.19],"nice":false,"zero":false},"axis":null},
       "y":{"field":"v","type":"quantitative","scale":{"domain":[0,52],"nice":false,"zero":false},"axis":null}}},
     {"data":{"name":"bline"},"transform":[{"filter":"datum.row == 'High'"}],"mark":{"type":"line","strokeWidth":1.2,"interpolate":"monotone"},
      "encoding":{"x":{"field":"t","type":"quantitative","scale":{"domain":[0,1.19],"nice":false,"zero":false},"axis":null},
       "y":{"field":"v","type":"quantitative","scale":{"domain":[0,52],"nice":false,"zero":false},"axis":null},
       "color":{"field":"pop","type":"nominal","scale":{"domain":["Negative","Positive"],"range":["#6e5fd1","#f3a462"]},"legend":null}}},
     {"data":{"name":"bspk"},"transform":[{"filter":"datum.row == 'High'"}],"mark":{"type":"rule","strokeWidth":1.2},
      "encoding":{"x":{"field":"t","type":"quantitative","scale":{"domain":[0,1.19],"nice":false,"zero":false},"axis":null},
       "y":{"field":"p","type":"quantitative","scale":{"domain":[0,52],"nice":false,"zero":false},"axis":null},"y2":{"field":"b"},
       "color":{"field":"pop","type":"nominal","scale":{"domain":["Negative","Positive"],"range":["#6e5fd1","#f3a462"]},"legend":null}}},
     {"data":{"values":[{}]},"mark":{"type":"text","text":"High","fontSize":12.5,"fontStyle":"italic","align":"left","baseline":"middle"},
      "encoding":{"x":{"datum":0,"type":"quantitative","scale":{"domain":[0,1.19],"nice":false,"zero":false},"axis":null},
       "y":{"datum":57,"type":"quantitative","scale":{"domain":[0,52],"nice":false,"zero":false},"axis":null}}}
    ]},
    {"width":155,"height":50,"layer":[
     {"data":{"name":"btheta"},"transform":[{"filter":"datum.row == 'Low2'"}],"mark":{"type":"line","strokeWidth":1.2,"interpolate":"monotone"},
      "encoding":{"x":{"field":"t","type":"quantitative","scale":{"domain":[0,1.19],"nice":false,"zero":false},"axis":null},
       "y":{"field":"v","type":"quantitative","scale":{"domain":[0,50],"nice":false,"zero":false},"axis":null},
       "stroke":{"datum":"Theta","type":"nominal","scale":{"domain":["Theta"],"range":["#d596c9"]},
        "legend":{"orient":"none","legendX":92,"legendY":59,"title":null,"symbolType":"M-1.8,0.5L-1.08,-0.5L-0.36,0.5L0.36,-0.5L1.08,0.5L1.8,-0.5","symbolSize":100,"symbolStrokeWidth":1.3,"symbolFillColor":"transparent","labelFontSize":12.5,"labelOffset":7}}}},
     {"data":{"name":"bline"},"transform":[{"filter":"datum.row == 'Low2'"}],"mark":{"type":"line","strokeWidth":1.2,"interpolate":"monotone"},
      "encoding":{"x":{"field":"t","type":"quantitative","scale":{"domain":[0,1.19],"nice":false,"zero":false},"axis":null},
       "y":{"field":"v","type":"quantitative","scale":{"domain":[0,50],"nice":false,"zero":false},"axis":null},
       "color":{"field":"pop","type":"nominal","scale":{"domain":["Negative","Positive"],"range":["#6e5fd1","#f3a462"]},
        "legend":{"orient":"none","legendX":8,"legendY":54,"title":null,"symbolType":"M-2,0L2,0","symbolSize":100,"symbolStrokeWidth":1.5,"labelFontSize":12.5,"rowPadding":-1,"labelOffset":6}}}},
     {"data":{"name":"bspk"},"transform":[{"filter":"datum.row == 'Low2'"}],"mark":{"type":"rule","strokeWidth":1.2},
      "encoding":{"x":{"field":"t","type":"quantitative","scale":{"domain":[0,1.19],"nice":false,"zero":false},"axis":null},
       "y":{"field":"p","type":"quantitative","scale":{"domain":[0,50],"nice":false,"zero":false},"axis":null},"y2":{"field":"b"},
       "color":{"field":"pop","type":"nominal","scale":{"domain":["Negative","Positive"],"range":["#6e5fd1","#f3a462"]}}}},
     {"data":{"values":[{}]},"mark":{"type":"text","text":"Low2","fontSize":12.5,"fontStyle":"italic","align":"left","baseline":"middle"},
      "encoding":{"x":{"datum":0,"type":"quantitative","scale":{"domain":[0,1.19],"nice":false,"zero":false},"axis":null},
       "y":{"datum":53,"type":"quantitative","scale":{"domain":[0,50],"nice":false,"zero":false},"axis":null}}}
    ]}
   ],"spacing":3,"resolve":{"scale":{"color":"independent","stroke":"independent"}}},
   {"hconcat":[
    {"width":16,"height":178,"layer":[
     {"data":{"name":"wave"},"mark":{"type":"line","color":"#999","strokeWidth":1,"interpolate":"natural"},
      "encoding":{"x":{"field":"w","type":"quantitative","scale":{"domain":[-2.333,1.222],"nice":false,"zero":false},"axis":null},
       "y":{"field":"ph","type":"quantitative","scale":{"domain":[-3.1416,3.1416],"nice":false,"zero":false},
        "axis":{"domain":false,"ticks":false,"labels":false,"title":"Mean spike phase","titleFontSize":12.5,"titlePadding":6}},
       "order":{"field":"ph","type":"quantitative"}}},
     {"data":{"values":[{}]},"mark":{"type":"text","text":"D","fontSize":17,"fontWeight":"bold","align":"left","baseline":"middle"},
      "encoding":{"x":{"datum":-6.67,"type":"quantitative","scale":{"domain":[-2.333,1.222],"nice":false,"zero":false},"axis":null},
       "y":{"datum":3.14,"type":"quantitative","scale":{"domain":[-3.1416,3.1416],"nice":false,"zero":false}}}}
    ]},
    {"width":142,"height":178,"layer":[
     {"data":{"name":"dheat"},"mark":{"type":"rect"},
      "encoding":{"x":{"field":"r0","type":"quantitative","scale":{"domain":[0,16],"nice":false,"zero":false},
        "axis":{"values":[2,4,6,8,10,12,14],"tickCount":30,"format":"d","labelOverlap":false,"title":"Mean firing rate (spikes/s)","tickSize":3,"labelFontSize":10.5,"titleFontSize":12,"titlePadding":0}},
       "x2":{"field":"r1"},
       "y":{"field":"p0","type":"quantitative","scale":{"domain":[-3.1416,3.1416],"nice":false,"zero":false},
        "axis":{"values":[-3.1416,-1.5708,0,1.5708,3.1416],"tickCount":30,"title":null,"tickSize":3,"labelPadding":1,"labelLineHeight":6,
         "labelExpr":"datum.value > 3 ? 'π' : datum.value > 1 ? ['π','2'] : datum.value > -1 ? '0' : datum.value > -3 ? ['−π','2'] : '−π'",
         "labelFontSize":{"condition":{"test":"datum.value == 0","value":11},"value":6}}},
       "y2":{"field":"p1"},
       "color":{"field":"d","type":"quantitative","scale":{"domain":[0,1],"range":["#ffffff","#000000"]},"legend":null}}},
     {"data":{"name":"dfit"},"mark":{"type":"line","color":"#e25c5c","strokeWidth":3,"opacity":0.85},
      "encoding":{"x":{"field":"r","type":"quantitative","scale":{"domain":[0,16],"nice":false,"zero":false}},
       "y":{"field":"ph","type":"quantitative","scale":{"domain":[-3.1416,3.1416],"nice":false,"zero":false}}}},
     {"data":{"values":[{}]},"mark":{"type":"text","text":"Negative","fontSize":12.5,"align":"left","baseline":"middle"},
      "encoding":{"x":{"datum":0.82,"type":"quantitative","scale":{"domain":[0,16],"nice":false,"zero":false}},
       "y":{"datum":2.95,"type":"quantitative","scale":{"domain":[-3.1416,3.1416],"nice":false,"zero":false}}}}
    ]}
   ],"spacing":0,"resolve":{"scale":{"color":"independent","stroke":"independent"}}}
  ],"spacing":7,"resolve":{"scale":{"color":"independent","stroke":"independent"}}}
 ],"spacing":12,"resolve":{"scale":{"color":"independent","stroke":"independent"}}},
 {"vconcat":[
  {"hconcat":[
   {"width":20,"height":178,"layer":[
    {"data":{"name":"wave"},"mark":{"type":"line","color":"#999","strokeWidth":1,"interpolate":"natural"},
     "encoding":{"x":{"field":"w","type":"quantitative","scale":{"domain":[-5.4,2.6],"nice":false,"zero":false},"axis":null},
      "y":{"field":"ph","type":"quantitative","scale":{"domain":[-3.1416,3.1416],"nice":false,"zero":false},
       "axis":{"domain":false,"ticks":false,"labels":false,"title":"Spike phase","titleFontSize":12.5,"titlePadding":2}},
      "order":{"field":"ph","type":"quantitative"}}},
    {"data":{"values":[{}]},"mark":{"type":"text","text":"C","fontSize":17,"fontWeight":"bold","align":"left","baseline":"middle"},
     "encoding":{"x":{"datum":-12.6,"type":"quantitative","scale":{"domain":[-5.4,2.6],"nice":false,"zero":false},"axis":null},
      "y":{"datum":3.28,"type":"quantitative","scale":{"domain":[-3.1416,3.1416],"nice":false,"zero":false}}}}
   ]},
   {"width":140,"height":178,"layer":[
    {"data":{"name":"cpts"},"mark":{"type":"point","filled":false,"size":26,"strokeWidth":1,"opacity":0.85},
     "encoding":{"x":{"field":"F","type":"quantitative","scale":{"domain":[-0.053,1.052],"nice":false,"zero":false},
       "axis":{"values":[0,0.5,1],"format":"~g","title":"External input, Fₑₓₜ","offset":1,"tickSize":4,"labelFontSize":11,"titleFontSize":12.5,"titlePadding":3}},
      "y":{"field":"ph","type":"quantitative","scale":{"domain":[-3.1416,3.1416],"nice":false,"zero":false},
       "axis":{"values":[-3.1416,-1.5708,0,1.5708,3.1416],"tickCount":30,"title":null,"offset":8,"tickSize":3,"labelPadding":1,"labelLineHeight":6,
        "labelExpr":"datum.value > 3 ? 'π' : datum.value > 1 ? ['π','2'] : datum.value > -1 ? '0' : datum.value > -3 ? ['−π','2'] : '−π'",
        "labelFontSize":{"condition":{"test":"datum.value == 0","value":11},"value":6}}},
      "color":{"field":"pop","type":"nominal","scale":{"domain":["Negative","Positive"],"range":["#6e5fd1","#f3a462"]},
       "legend":{"orient":"none","legendX":37,"legendY":-2,"title":null,"symbolType":"M-1.6,0L-0.7,0M0.7,0L1.6,0M0.7,0A0.7,0.7,0,1,1,-0.7,0A0.7,0.7,0,1,1,0.7,0","symbolSize":100,"symbolStrokeWidth":1.2,"symbolFillColor":"transparent","labelFontSize":12.5,"rowPadding":0,"labelOffset":6}}}},
    {"data":{"name":"cfit"},"mark":{"type":"line","strokeWidth":1.3},
     "encoding":{"x":{"field":"F","type":"quantitative","scale":{"domain":[-0.053,1.052],"nice":false,"zero":false}},
      "y":{"field":"ph","type":"quantitative","scale":{"domain":[-3.1416,3.1416],"nice":false,"zero":false}},
      "color":{"field":"pop","type":"nominal","scale":{"domain":["Negative","Positive"],"range":["#6e5fd1","#f3a462"]}}}}
   ]}
  ],"spacing":0,"resolve":{"scale":{"color":"independent","stroke":"independent"}}},
  {"hconcat":[
   {"width":27,"height":178,"layer":[
    {"data":{"name":"wave"},"mark":{"type":"line","color":"#999","strokeWidth":1,"interpolate":"natural"},
     "encoding":{"x":{"field":"w","type":"quantitative","scale":{"domain":[-1.333,3.167],"nice":false,"zero":false},"axis":null},
      "y":{"field":"ph","type":"quantitative","scale":{"domain":[-3.1416,3.1416],"nice":false,"zero":false},
       "axis":{"domain":false,"ticks":false,"labels":false,"title":"Mean spike phase","titleFontSize":12.5,"titlePadding":3}},
      "order":{"field":"ph","type":"quantitative"}}},
    {"data":{"values":[{}]},"mark":{"type":"text","text":"E","fontSize":17,"fontWeight":"bold","align":"left","baseline":"middle"},
     "encoding":{"x":{"datum":-4.33,"type":"quantitative","scale":{"domain":[-1.333,3.167],"nice":false,"zero":false},"axis":null},
      "y":{"datum":3.14,"type":"quantitative","scale":{"domain":[-3.1416,3.1416],"nice":false,"zero":false}}}}
   ]},
   {"width":141,"height":178,"layer":[
    {"data":{"name":"eheat"},"mark":{"type":"rect"},
     "encoding":{"x":{"field":"r0","type":"quantitative","scale":{"domain":[0,17.4],"nice":false,"zero":false},
       "axis":{"values":[2,4,6,8,10,12,14,16],"tickCount":30,"format":"d","labelOverlap":false,"title":"Mean firing rate (spikes/s)","tickSize":3,"labelFontSize":10.5,"titleFontSize":12,"titlePadding":0}},
      "x2":{"field":"r1"},
      "y":{"field":"p0","type":"quantitative","scale":{"domain":[-3.1416,3.1416],"nice":false,"zero":false},
       "axis":{"values":[-3.1416,-1.5708,0,1.5708,3.1416],"tickCount":30,"title":null,"tickSize":3,"labelPadding":1,"labelLineHeight":6,
        "labelExpr":"datum.value > 3 ? 'π' : datum.value > 1 ? ['π','2'] : datum.value > -1 ? '0' : datum.value > -3 ? ['−π','2'] : '−π'",
        "labelFontSize":{"condition":{"test":"datum.value == 0","value":11},"value":6}}},
      "y2":{"field":"p1"},
      "color":{"field":"d","type":"quantitative","scale":{"domain":[0,1],"range":["#ffffff","#000000"]},"legend":null}}},
    {"data":{"name":"efit"},"mark":{"type":"line","color":"#e25c5c","strokeWidth":3,"opacity":0.85},
     "encoding":{"x":{"field":"r","type":"quantitative","scale":{"domain":[0,17.4],"nice":false,"zero":false}},
      "y":{"field":"ph","type":"quantitative","scale":{"domain":[-3.1416,3.1416],"nice":false,"zero":false}}}},
    {"data":{"values":[{}]},"mark":{"type":"text","text":"Positive","fontSize":12.5,"align":"left","baseline":"middle"},
     "encoding":{"x":{"datum":0.5,"type":"quantitative","scale":{"domain":[0,17.4],"nice":false,"zero":false}},
      "y":{"datum":2.95,"type":"quantitative","scale":{"domain":[-3.1416,3.1416],"nice":false,"zero":false}}}}
   ]}
  ],"spacing":0,"resolve":{"scale":{"color":"independent","stroke":"independent"}}}
 ],"spacing":10,"resolve":{"scale":{"color":"independent","stroke":"independent"}}}
],
"spacing":-5,
"resolve":{"scale":{"color":"independent","stroke":"independent"}}
}
